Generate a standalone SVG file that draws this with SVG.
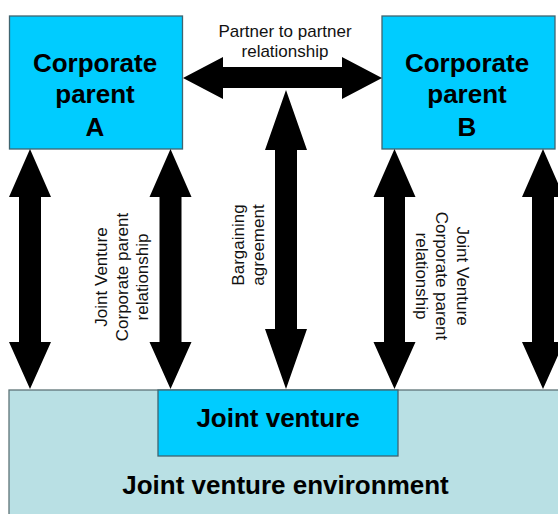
<svg xmlns="http://www.w3.org/2000/svg" width="558" height="514" viewBox="0 0 558 514">
<style>
.box{fill:#00CCFF;stroke:#3f6570;stroke-width:1.3}
.env{fill:#B9E0E4;stroke:#5f7478;stroke-width:1.3}
.arrow{fill:#000}
.big{font-family:"Liberation Sans",Arial,sans-serif;font-weight:bold;font-size:26px;fill:#000;text-anchor:middle}
.lbl{font-family:"Liberation Sans",Arial,sans-serif;font-size:17px;fill:#111;text-anchor:middle}
</style>
<rect width="558" height="514" fill="#fff"/>
<g id="environment">
<rect class="env" x="9" y="390" width="560" height="140"/>
<text class="big" x="285.5" y="494">Joint venture environment</text>
</g>
<g id="joint-venture">
<rect class="box" x="158" y="390" width="240" height="66"/>
<text class="big" x="278" y="427">Joint venture</text>
</g>
<g id="parent-a">
<rect class="box" x="9.5" y="16" width="173" height="133"/>
<text class="big" x="95" y="72">Corporate</text>
<text class="big" x="95" y="103">parent</text>
<text class="big" x="95" y="136">A</text>
</g>
<g id="parent-b">
<rect class="box" x="382" y="16" width="173" height="133"/>
<text class="big" x="467" y="72">Corporate</text>
<text class="big" x="467" y="103">parent</text>
<text class="big" x="467" y="136">B</text>
</g>
<g id="connectors">
<polygon class="arrow" points="183,78 223,57 223,67 342,67 342,57 382,78 342,99 342,88 223,88 223,99"/>
<polygon class="arrow" points="30,149 51,197 41,197 41,342 51,342 30,389 9,342 19,342 19,197 9,197"/>
<polygon class="arrow" points="170.5,149 191.5,197 181.5,197 181.5,342 191.5,342 170.5,389 149.5,342 159.5,342 159.5,197 149.5,197"/>
<polygon class="arrow" points="286,90 307,150 297,150 297,329 307,329 286,389 265,329 275,329 275,150 265,150"/>
<polygon class="arrow" points="394.5,149 415.5,197 405,197 405,342 415.5,342 394.5,389 373.5,342 384,342 384,197 373.5,197"/>
<polygon class="arrow" points="543,149 564,197 554,197 554,342 564,342 543,389 522,342 532,342 532,197 522,197"/>
</g>
<g id="labels">
<text class="lbl" x="285" y="37">Partner to partner</text>
<text class="lbl" x="285" y="57">relationship</text>
<text class="lbl" transform="translate(107,277) rotate(-90)"><tspan x="0" y="0">Joint Venture</tspan><tspan x="0" y="20.5">Corporate parent</tspan><tspan x="0" y="41">relationship</tspan></text>
<text class="lbl" transform="translate(244,245) rotate(-90)"><tspan x="0" y="0">Bargaining</tspan><tspan x="0" y="20">agreement</tspan></text>
<text class="lbl" transform="translate(457,276) rotate(90)"><tspan x="0" y="0">Joint Venture</tspan><tspan x="0" y="21">Corporate parent</tspan><tspan x="0" y="41">relationship</tspan></text>
</g>
</svg>
